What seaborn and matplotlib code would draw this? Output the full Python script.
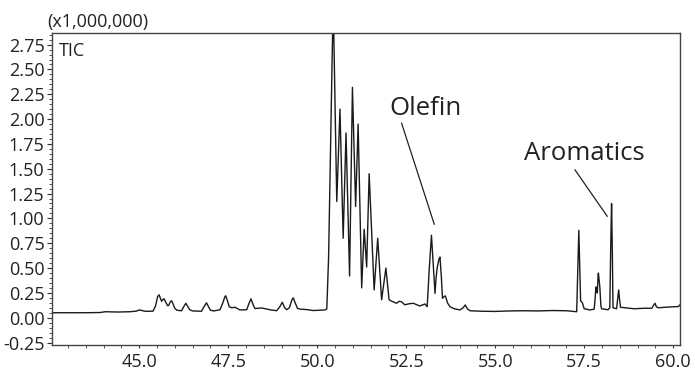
import numpy as np
import pandas as pd
import matplotlib
matplotlib.use("Agg")
import matplotlib.pyplot as plt
from matplotlib.ticker import MultipleLocator, FormatStrFormatter
import seaborn as sns

# retention time (min) and TIC intensity (x1,000,000)
rt = [42.55, 43.50, 43.90, 44.05, 44.40, 44.74, 44.92, 45.00, 45.08, 45.18,
      45.39, 45.46, 45.52, 45.56, 45.60, 45.63, 45.67, 45.70, 45.74, 45.80,
      45.83, 45.88, 45.91, 45.95, 46.00, 46.06, 46.19, 46.25, 46.31, 46.36,
      46.42, 46.50, 46.75, 46.82, 46.89, 46.94, 47.00, 47.10, 47.27, 47.35,
      47.41, 47.43, 47.48, 47.53, 47.60, 47.69, 47.83, 48.02, 48.08, 48.14,
      48.19, 48.25, 48.34, 48.44, 48.67, 48.86, 48.95, 49.02, 49.08, 49.14,
      49.22, 49.29, 49.33, 49.38, 49.45, 49.55, 49.70, 49.89, 50.22, 50.27,
      50.32, 50.45, 50.55, 50.64, 50.73, 50.81, 50.91, 50.99, 51.08, 51.15,
      51.25, 51.32, 51.39, 51.46, 51.60, 51.70, 51.81, 51.93, 52.02, 52.13,
      52.23, 52.30, 52.37, 52.46, 52.58, 52.70, 52.88, 52.97, 53.03, 53.09,
      53.15, 53.21, 53.25, 53.31, 53.34, 53.37, 53.42, 53.45, 53.49, 53.52,
      53.56, 53.60, 53.66, 53.73, 53.85, 54.01, 54.10, 54.16, 54.22, 54.29,
      54.60, 55.00, 55.40, 55.80, 56.20, 56.60, 57.00, 57.29, 57.33, 57.35,
      57.37, 57.40, 57.45, 57.50, 57.66, 57.78, 57.81, 57.83, 57.85, 57.87,
      57.89, 57.90, 57.92, 57.94, 57.97, 57.99, 58.17, 58.22, 58.25, 58.27,
      58.29, 58.31, 58.41, 58.45, 58.47, 58.49, 58.52, 58.90, 59.20, 59.40,
      59.46, 59.49, 59.53, 59.58, 60.00, 60.15, 60.19]
tic = [0.050, 0.050, 0.052, 0.060, 0.057, 0.060, 0.066, 0.078, 0.072, 0.064,
       0.066, 0.120, 0.215, 0.230, 0.190, 0.165, 0.185, 0.190, 0.160, 0.120,
       0.125, 0.165, 0.170, 0.140, 0.095, 0.075, 0.070, 0.110, 0.145, 0.115,
       0.080, 0.068, 0.065, 0.110, 0.150, 0.115, 0.075, 0.068, 0.080, 0.150,
       0.215, 0.220, 0.170, 0.110, 0.100, 0.105, 0.078, 0.080, 0.140, 0.190,
       0.140, 0.092, 0.095, 0.098, 0.080, 0.070, 0.110, 0.155, 0.105, 0.080,
       0.100, 0.180, 0.200, 0.150, 0.092, 0.085, 0.082, 0.072, 0.078, 0.090,
       0.600, 3.200, 1.170, 2.100, 0.800, 1.860, 0.420, 2.320, 1.120, 1.950,
       0.300, 0.890, 0.510, 1.450, 0.280, 0.800, 0.180, 0.500, 0.180, 0.160,
       0.145, 0.165, 0.160, 0.130, 0.140, 0.145, 0.118, 0.130, 0.138, 0.110,
       0.500, 0.830, 0.600, 0.245, 0.400, 0.500, 0.590, 0.610, 0.400, 0.195,
       0.210, 0.220, 0.150, 0.110, 0.090, 0.078, 0.100, 0.128, 0.090, 0.070,
       0.065, 0.063, 0.068, 0.070, 0.068, 0.072, 0.070, 0.060, 0.600, 0.880,
       0.600, 0.170, 0.150, 0.090, 0.078, 0.085, 0.200, 0.310, 0.260, 0.250,
       0.420, 0.450, 0.380, 0.310, 0.120, 0.090, 0.080, 0.100, 0.800, 1.150,
       0.700, 0.100, 0.090, 0.220, 0.280, 0.200, 0.105, 0.090, 0.095, 0.095,
       0.130, 0.145, 0.110, 0.100, 0.110, 0.112, 0.130]

df = pd.DataFrame({"rt": rt, "tic": tic})

sns.set_style("ticks")
plt.rcParams["font.family"] = ["Open Sans", "DejaVu Sans"]
plt.rcParams["axes.unicode_minus"] = False

fig = plt.figure(figsize=(6.95, 3.72), dpi=100)
ax = fig.add_axes([0.0748, 0.0726, 0.9035, 0.8387])

sns.lineplot(data=df, x="rt", y="tic", ax=ax, color="#1a1a1a", lw=1.0,
             estimator=None, sort=False)

ax.set_xlim(42.55, 60.19)
ax.set_ylim(-0.275, 2.867)
ax.set_xlabel("")
ax.set_ylabel("")

ax.xaxis.set_major_locator(MultipleLocator(2.5))
ax.xaxis.set_minor_locator(MultipleLocator(0.5))
ax.yaxis.set_major_locator(MultipleLocator(0.25))
ax.yaxis.set_minor_locator(MultipleLocator(0.05))
ax.xaxis.set_major_formatter(FormatStrFormatter("%.1f"))
ax.yaxis.set_major_formatter(FormatStrFormatter("%.2f"))
ax.tick_params(axis="both", which="major", length=3.6, width=0.8,
               color="#333333", labelsize=13, labelcolor="#222222", pad=1.8)
ax.tick_params(axis="both", which="minor", length=2, width=0.6, color="#333333")
ax.tick_params(axis="x", which="both", length=2.4)
ax.tick_params(axis="x", which="major", pad=3.5)
for s in ax.spines.values():
    s.set_color("#444444")
    s.set_linewidth(1.0)

ax.text(-0.008, 1.008, "(x1,000,000)", transform=ax.transAxes, fontsize=13,
        color="#222222", ha="left", va="bottom")
ax.text(42.75, 2.69, "TIC", fontsize=13, color="#222222", va="center")

# peak labels with leader lines
ax.text(53.04, 2.11, "Olefin", fontsize=18.5, color="#222222",
        ha="center", va="center")
ax.annotate("", xy=(53.29, 0.94), xytext=(52.37, 1.96),
            arrowprops=dict(arrowstyle="-", color="#222222", lw=0.9,
                            shrinkA=0, shrinkB=0))
ax.text(57.51, 1.65, "Aromatics", fontsize=18.5, color="#222222",
        ha="center", va="center")
ax.annotate("", xy=(58.15, 1.02), xytext=(57.24, 1.49),
            arrowprops=dict(arrowstyle="-", color="#222222", lw=0.9,
                            shrinkA=0, shrinkB=0))

fig.savefig("out.png", dpi=100)
